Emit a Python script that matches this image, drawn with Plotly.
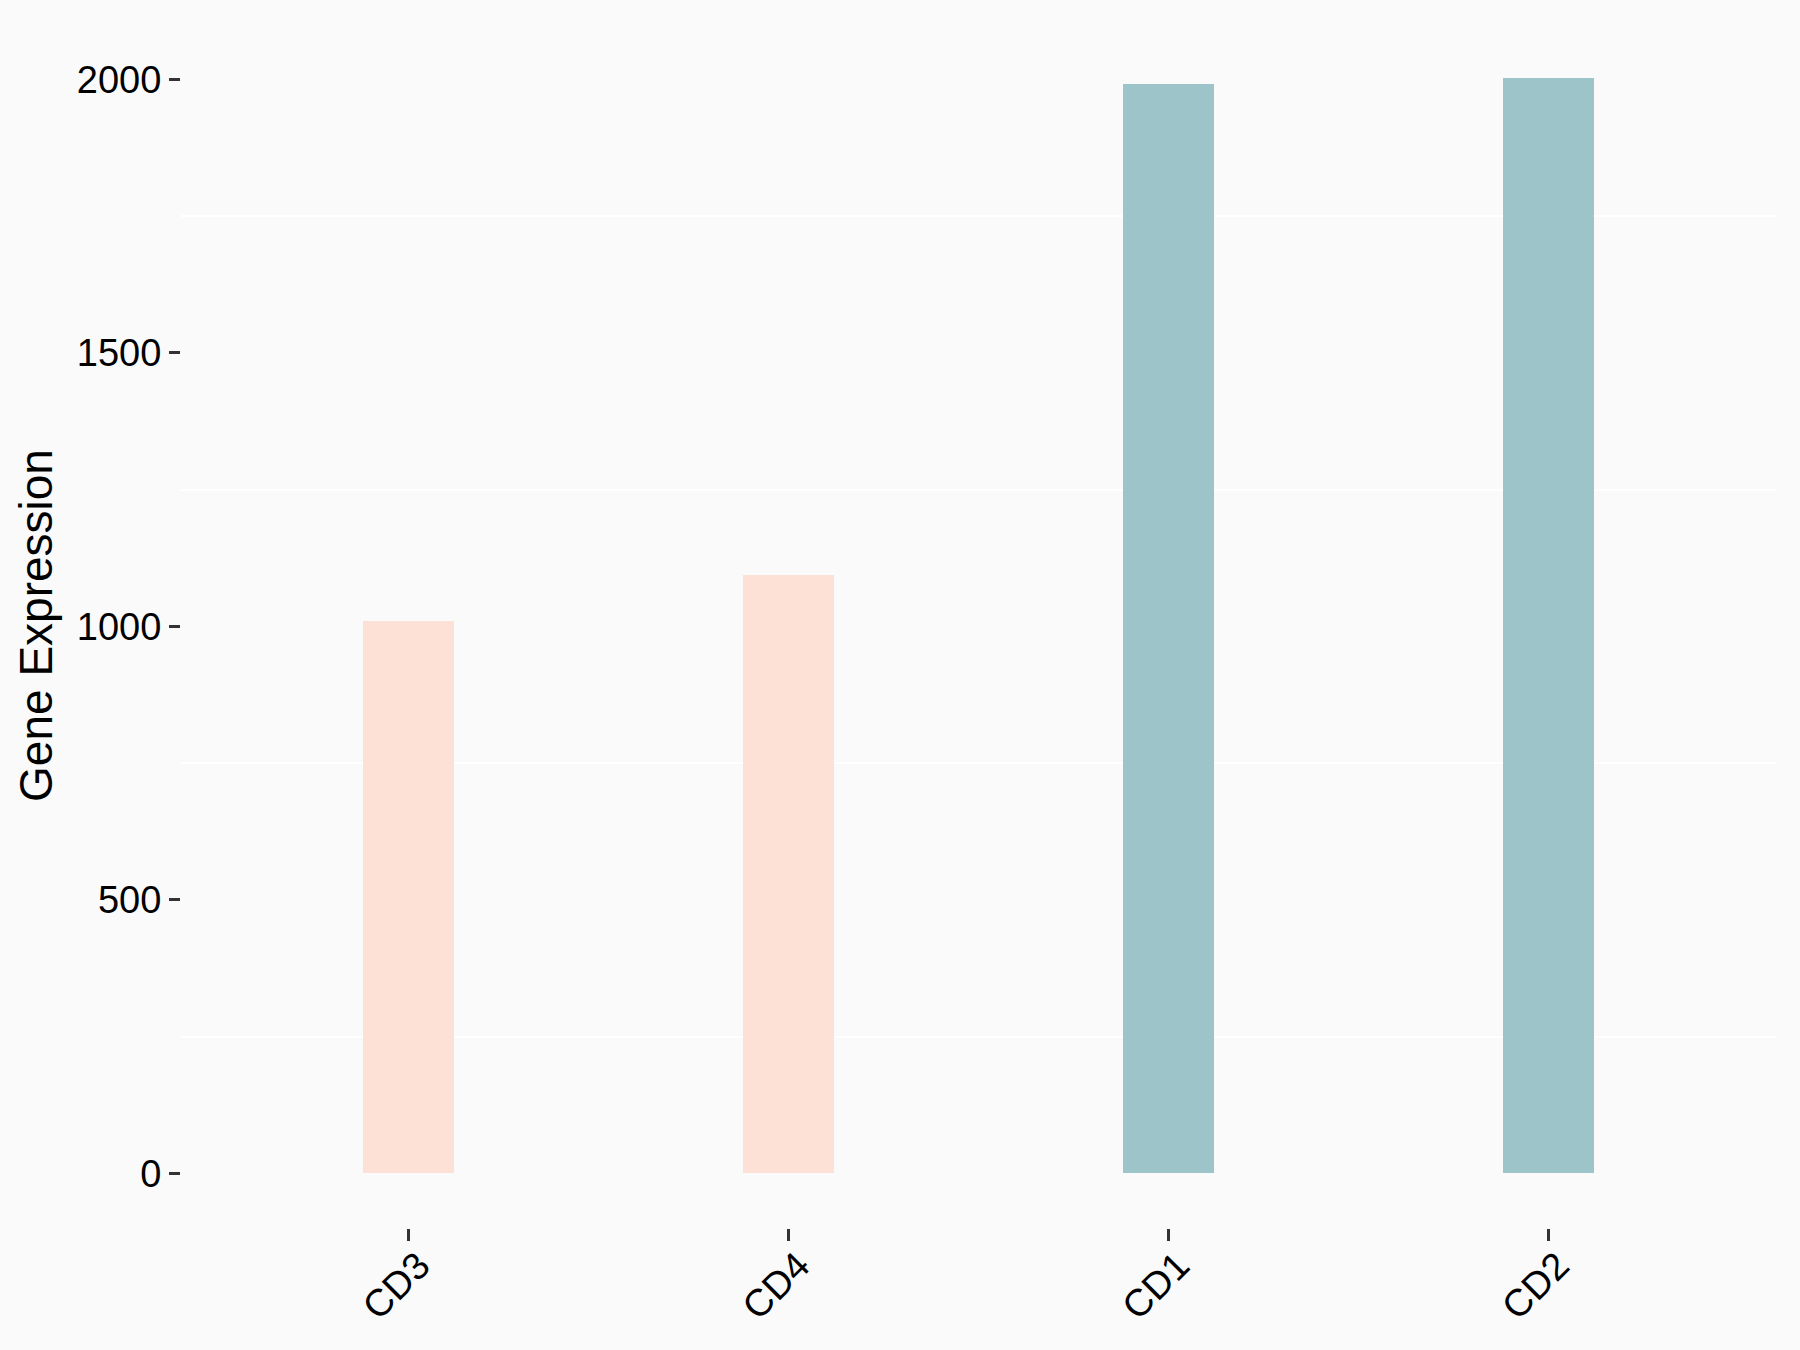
import plotly.graph_objects as go

genes = ["CD3", "CD4", "CD1", "CD2"]
expression = [1009, 1093, 1992, 2003]
bar_colors = ["#FEE1D6", "#FEE1D6", "#9DC4C8", "#9DC4C8"]

ymax = max(expression)
yrange = [-0.05 * ymax, 1.05 * ymax]

fig = go.Figure()
fig.add_trace(go.Bar(x=genes, y=expression, marker_color=bar_colors,
                     marker_line_width=0, width=0.24, showlegend=False))

font = "Liberation Sans, Arial, sans-serif"
fig.update_layout(
    width=1800, height=1350,
    margin=dict(l=181, r=24, t=23, b=122),
    paper_bgcolor="#FAFAFA", plot_bgcolor="#FAFAFA",
    font=dict(family=font, size=38, color="black"),
    bargap=0,
)
fig.update_xaxes(
    range=[-0.6, 3.6], showgrid=False, zeroline=False, showline=False,
    ticks="outside", ticklen=12, tickwidth=3, tickcolor="#333333",
    tickangle=-45, tickfont=dict(size=38, color="black"), automargin=False,
    ticklabelshift=10, ticklabelstandoff=-13,
)
fig.update_yaxes(
    range=yrange, tickvals=[0, 500, 1000, 1500, 2000],
    showgrid=False, zeroline=False, showline=False,
    ticks="outside", ticklen=11, tickwidth=3, tickcolor="#333333",
    tickfont=dict(size=38, color="black"), automargin=False, ticklabelstandoff=0,
    minor=dict(tickvals=[250, 750, 1250, 1750], showgrid=True,
               gridcolor="#FFFFFF", gridwidth=2, ticks=""),
    title=dict(text="Gene Expression", font=dict(size=46, color="black"), standoff=9),
)

fig.write_html("out.html", config={"displayModeBar": False},
               post_script="document.body.style.margin='0';")
